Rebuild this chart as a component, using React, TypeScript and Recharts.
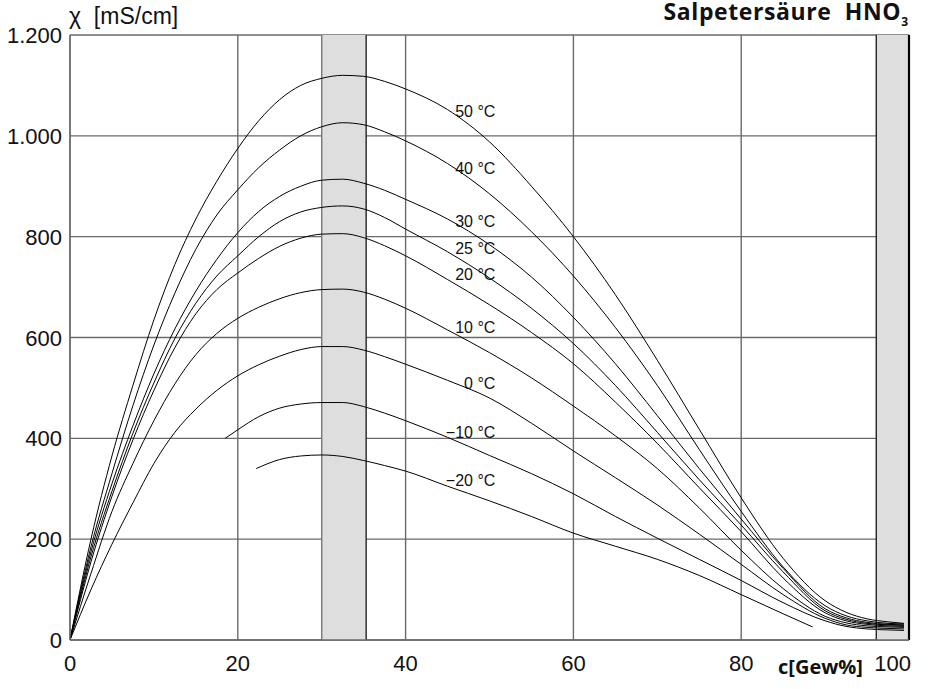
import React from "react"
import {
  LineChart,
  Line,
  XAxis,
  YAxis,
  CartesianGrid,
  ReferenceArea,
  ReferenceLine,
  ReferenceDot,
} from "recharts"

// conductivity of nitric acid (HNO3) vs. concentration, one curve per temperature
const xTicks = [0, 20, 40, 60, 80, 100]
const yTicks = [0, 200, 400, 600, 800, 1000, 1200]

// concentration points shared by the curves that start at 0 %
const conc = [0, 2.5, 5, 7.5, 10, 12.5, 15, 17.5, 20, 22.5, 25, 27.5, 30, 32.5, 35, 37.5, 40, 45, 50, 55, 60, 65, 70, 75, 80, 85, 90, 92.5, 95, 97.5, 99.4]

const k50 = [0, 200, 365, 505, 635, 745, 835, 910, 975, 1030, 1072, 1100, 1114, 1120, 1118, 1108, 1093, 1052, 988, 900, 800, 685, 555, 418, 282, 162, 78, 55, 42, 36, 33]
const k40 = [0, 185, 330, 465, 585, 688, 775, 843, 893, 937, 972, 1000, 1018, 1026, 1022, 1008, 990, 945, 885, 810, 722, 620, 505, 378, 255, 145, 68, 48, 38, 33, 32]
const k30 = [0, 175, 310, 425, 528, 617, 692, 755, 808, 850, 880, 900, 912, 914, 906, 892, 874, 835, 784, 720, 640, 548, 445, 340, 240, 142, 62, 44, 35, 31, 30]
const k25 = [0, 165, 295, 410, 510, 598, 668, 722, 762, 800, 830, 849, 858, 861, 855, 838, 815, 770, 718, 658, 588, 505, 412, 318, 228, 135, 58, 41, 33, 30, 29]
const k20 = [0, 155, 285, 397, 495, 580, 647, 695, 728, 757, 781, 797, 805, 806, 798, 782, 762, 715, 665, 610, 548, 472, 390, 302, 215, 123, 54, 38, 31, 28, 27]
const k10 = [0, 132, 255, 350, 435, 508, 566, 608, 638, 660, 677, 689, 695, 696, 690, 676, 658, 615, 570, 520, 464, 405, 340, 262, 178, 102, 47, 34, 28, 26, 25]
const k0 = [0, 100, 190, 272, 350, 412, 458, 495, 524, 546, 563, 576, 582, 582, 575, 562, 547, 515, 480, 430, 375, 322, 268, 210, 150, 90, 43, 30, 25, 23, 22]

// the two coldest curves start later
const concMinus10 = [18.5, 20, 22.5, 25, 27.5, 30, 32.5, 35, 37.5, 40, 45, 50, 55, 60, 65, 70, 75, 80, 85, 90, 92.5, 95, 97.5, 99.4]
const kMinus10 = [400, 417, 443, 460, 468, 471, 471, 463, 450, 435, 402, 366, 330, 290, 245, 202, 160, 118, 74, 38, 27, 22, 20, 19]
const concMinus20 = [22.2, 25, 27.5, 30, 32.5, 35, 37.5, 40, 45, 50, 55, 60, 65, 70, 75, 80, 85, 88.5]
const kMinus20 = [340, 358, 365, 367, 364, 356, 346, 335, 305, 276, 245, 212, 186, 160, 128, 90, 52, 26]

const curves: [number[], number[]][] = [
  [conc, k50],
  [conc, k40],
  [conc, k30],
  [conc, k25],
  [conc, k20],
  [conc, k10],
  [conc, k0],
  [concMinus10, kMinus10],
  [concMinus20, kMinus20],
]

// temperature labels: [text, y in mS/cm where the label sits]
const tempLabels: [string, number][] = [
  ["50 °C", 1050],
  ["40 °C", 937],
  ["30 °C", 832],
  ["25 °C", 778],
  ["20 °C", 725],
  ["10 °C", 620],
  ["0 °C", 509],
  ["\u221210 °C", 412],
  ["\u221220 °C", 318],
]
const labelX = 50.7

// shaded ranges on the concentration axis
const bands: [number, number][] = [[30, 35.3], [96.1, 100]]

const GRID = "#6a6a6a"
const FONT = "'Liberation Sans', Arial, Helvetica, sans-serif"
const BOLD_FONT = "'Open Sans', 'Noto Sans', sans-serif"

const fmtY = (v: number) => (v >= 1000 ? `${Math.floor(v / 1000)}.${String(v % 1000).padStart(3, "0")}` : `${v}`)

const XTick = ({ x, y, payload }: any) => {
  const last = payload.value === 100
  return (
    <text x={last ? x + 2 : x} y={y + 31} textAnchor={last ? "end" : "middle"} fontSize={22} fontFamily={FONT} fill="#111">
      {payload.value}
    </text>
  )
}

const YTick = ({ x, y, payload }: any) => (
  <text x={x - 8} y={y + 8} textAnchor="end" fontSize={22} fontFamily={FONT} fill="#111">
    {fmtY(payload.value)}
  </text>
)

const TempLabel = ({ viewBox, value }: any) => {
  const cx = viewBox.x + viewBox.width / 2
  const cy = viewBox.y + viewBox.height / 2
  return (
    <text x={cx} y={cy + 6} textAnchor="end" fontSize={16} fontFamily={FONT} fill="#111">
      {value}
    </text>
  )
}

export default function App() {
  return (
    <div style={{ position: "absolute", left: 0, top: 0, width: 934, height: 689, background: "#fff" }}>
      <LineChart width={934} height={689} margin={{ top: 35, right: 25, bottom: 19, left: 0 }}>
        {bands.map(([a, b], i) => (
          <ReferenceArea key={`band-${i}`} x1={a} x2={b} fill="#dedede" fillOpacity={1} stroke="none" ifOverflow="visible" />
        ))}
        <CartesianGrid stroke={GRID} strokeWidth={1.4} />
        <XAxis
          type="number"
          dataKey="c"
          domain={[0, 100]}
          ticks={xTicks}
          allowDataOverflow
          tickLine={false}
          tickSize={0}
          tickMargin={0}
          height={30}
          axisLine={{ stroke: GRID, strokeWidth: 1.4 }}
          tick={<XTick />}
        />
        <YAxis
          type="number"
          domain={[0, 1200]}
          ticks={yTicks}
          allowDataOverflow
          tickLine={false}
          tickSize={0}
          tickMargin={0}
          width={70}
          axisLine={{ stroke: GRID, strokeWidth: 1.4 }}
          tick={<YTick />}
        />
        <ReferenceLine x={30} stroke="#777" strokeWidth={1.4} />
        <ReferenceLine x={35.3} stroke="#222" strokeWidth={1.4} />
        <ReferenceLine x={96.1} stroke="#222" strokeWidth={1.4} />
        <ReferenceLine x={100} stroke="#000" strokeWidth={2.2} />
        {curves.map(([xs, ks], i) => (
          <Line
            key={`curve-${i}`}
            data={xs.map((c, j) => ({ c, k: ks[j] }))}
            dataKey="k"
            type="monotone"
            stroke="#000"
            strokeWidth={1}
            dot={false}
            activeDot={false}
            isAnimationActive={false}
          />
        ))}
        {tempLabels.map(([text, y]) => (
          <ReferenceDot
            key={text}
            x={labelX}
            y={y}
            r={1}
            fill="none"
            stroke="none"
            label={<TempLabel value={text} />}
          />
        ))}
      </LineChart>

      <div style={{ position: "absolute", left: 69, top: 5, fontFamily: FONT, fontSize: 23, lineHeight: 1, color: "#111", whiteSpace: "pre" }}>
        {"χ  [mS/cm]"}
      </div>
      <div
        style={{
          position: "absolute",
          right: 26,
          top: 0,
          fontFamily: BOLD_FONT,
          fontWeight: 700,
          fontSize: 23,
          letterSpacing: 0.6,
          lineHeight: 1,
          color: "#111",
          whiteSpace: "pre",
        }}
      >
        {"Salpetersäure  HNO"}
        <sub style={{ fontSize: 12, letterSpacing: 0 }}>3</sub>
      </div>
      <div
        style={{
          position: "absolute",
          left: 778,
          top: 655,
          fontFamily: BOLD_FONT,
          fontWeight: 700,
          fontSize: 20,
          lineHeight: 1.2,
          color: "#111",
          whiteSpace: "pre",
        }}
      >
        c[Gew%]
      </div>
    </div>
  )
}
